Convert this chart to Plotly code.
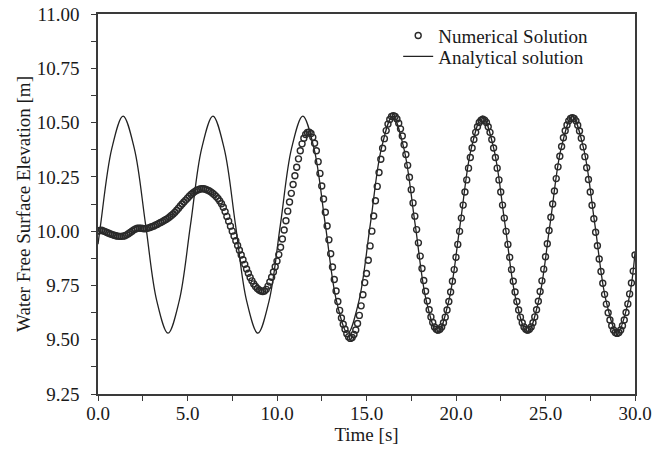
import plotly.graph_objects as go

# ---------------- data ----------------
DT = 0.1  # sampling interval of the numerical solution [s]
numerical_values = [
    10.000, 10.003, 10.004, 10.001, 9.998, 9.994, 9.990, 9.987, 9.984, 9.981,
    9.979, 9.977, 9.976, 9.976, 9.977, 9.979, 9.983, 9.988, 9.994, 10.000,
    10.006, 10.010, 10.013, 10.014, 10.013, 10.012, 10.011, 10.012, 10.014, 10.017,
    10.020, 10.023, 10.027, 10.031, 10.036, 10.040, 10.044, 10.049, 10.054, 10.059,
    10.065, 10.072, 10.079, 10.087, 10.096, 10.106, 10.116, 10.125, 10.134, 10.143,
    10.152, 10.161, 10.169, 10.176, 10.182, 10.187, 10.191, 10.194, 10.195, 10.195,
    10.193, 10.190, 10.186, 10.181, 10.175, 10.168, 10.160, 10.150, 10.139, 10.126,
    10.110, 10.090, 10.068, 10.046, 10.023, 10.000, 9.978, 9.956, 9.934, 9.912,
    9.890, 9.868, 9.847, 9.826, 9.806, 9.787, 9.771, 9.757, 9.745, 9.736,
    9.729, 9.724, 9.722, 9.724, 9.732, 9.747, 9.766, 9.788, 9.812, 9.836,
    9.862, 9.892, 9.926, 9.964, 10.005, 10.048, 10.092, 10.134, 10.174, 10.215,
    10.255, 10.294, 10.333, 10.370, 10.402, 10.428, 10.445, 10.454, 10.456, 10.450,
    10.432, 10.405, 10.370, 10.320, 10.266, 10.208, 10.148, 10.087, 10.024, 9.960,
    9.896, 9.835, 9.777, 9.724, 9.676, 9.635, 9.600, 9.571, 9.548, 9.528,
    9.513, 9.506, 9.510, 9.524, 9.545, 9.575, 9.612, 9.656, 9.707, 9.763,
    9.805, 9.866, 9.932, 10.000, 10.070, 10.140, 10.206, 10.270, 10.331, 10.382,
    10.426, 10.463, 10.493, 10.514, 10.528, 10.532, 10.528, 10.517, 10.497, 10.471,
    10.438, 10.398, 10.353, 10.303, 10.248, 10.191, 10.130, 10.069, 10.007, 9.946,
    9.885, 9.828, 9.773, 9.723, 9.678, 9.638, 9.605, 9.579, 9.559, 9.548,
    9.544, 9.548, 9.559, 9.578, 9.604, 9.637, 9.676, 9.720, 9.769, 9.823,
    9.880, 9.939, 9.999, 10.060, 10.120, 10.180, 10.236, 10.290, 10.339, 10.383,
    10.422, 10.455, 10.481, 10.500, 10.511, 10.515, 10.511, 10.500, 10.481, 10.455,
    10.422, 10.383, 10.339, 10.290, 10.236, 10.180, 10.120, 10.060, 9.999, 9.939,
    9.880, 9.823, 9.769, 9.720, 9.676, 9.637, 9.604, 9.578, 9.559, 9.548,
    9.544, 9.548, 9.559, 9.578, 9.605, 9.638, 9.677, 9.722, 9.771, 9.825,
    9.882, 9.942, 10.003, 10.064, 10.125, 10.185, 10.242, 10.296, 10.345, 10.390,
    10.430, 10.462, 10.489, 10.508, 10.519, 10.523, 10.519, 10.508, 10.488, 10.461,
    10.428, 10.388, 10.343, 10.292, 10.238, 10.180, 10.119, 10.057, 9.995, 9.933,
    9.872, 9.814, 9.760, 9.709, 9.664, 9.624, 9.591, 9.564, 9.545, 9.533,
    9.529, 9.533, 9.545, 9.564, 9.591, 9.625, 9.665, 9.711, 9.761, 9.816,
    9.890,
]
numerical_time = [round(i * DT, 1) for i in range(len(numerical_values))]

analytical_time = [
    0.0, 0.145, 0.77, 1.40, 2.03, 2.66, 3.28, 3.91, 4.54, 5.17, 5.79, 6.42,
    7.05, 7.68, 8.30, 8.93, 9.56, 10.19, 10.81, 11.44, 12.07, 12.70, 13.32,
    13.95, 14.58, 15.21, 15.83, 16.46, 17.09, 17.72, 18.34, 18.97, 19.60,
    20.23, 20.85, 21.48, 22.11, 22.74, 23.36, 23.99, 24.62, 25.25, 25.87,
    26.50, 27.13, 27.76, 28.38, 29.01, 29.64, 30.0,
]
analytical_values = [
    9.94, 10.03, 10.38, 10.53, 10.38, 10.03, 9.68, 9.53, 9.68, 10.03, 10.38, 10.53,
    10.38, 10.03, 9.68, 9.53, 9.68, 10.03, 10.38, 10.53, 10.38, 10.03, 9.68,
    9.53, 9.68, 10.03, 10.38, 10.53, 10.38, 10.03, 9.68, 9.53, 9.68,
    10.03, 10.38, 10.53, 10.38, 10.03, 9.68, 9.53, 9.68, 10.03, 10.38,
    10.53, 10.38, 10.03, 9.68, 9.53, 9.68, 9.90,
]

x_tick_values = [0, 5, 10, 15, 20, 25, 30]
y_tick_values = [9.25, 9.50, 9.75, 10.00, 10.25, 10.50, 10.75, 11.00]

FONT = "Liberation Serif, Times New Roman, serif"
INK = "#1a1a1a"
FS = 19

# ---------------- figure ----------------
fig = go.Figure()

fig.add_trace(go.Scatter(
    x=analytical_time, y=analytical_values,
    mode="lines", name="Analytical solution", legend="legend2",
    line=dict(color="#222222", width=1.3, shape="spline", smoothing=1.0),
))

fig.add_trace(go.Scatter(
    x=numerical_time, y=numerical_values,
    mode="markers", name="Numerical Solution", legend="legend",
    marker=dict(symbol="circle-open", size=6, color="#2a2a2a",
                line=dict(width=1.4, color="#2a2a2a")),
))

axis_common = dict(
    showline=True, linecolor="#3a3a3a", linewidth=1.5, mirror=True,
    ticks="outside", ticklen=5, tickwidth=1.2, tickcolor="#3a3a3a",
    showgrid=False, zeroline=False, automargin=False,
    tickfont=dict(family=FONT, size=FS, color=INK),
)

legend_common = dict(
    xanchor="left", yanchor="middle",
    bgcolor="rgba(0,0,0,0)", borderwidth=0,
    font=dict(family=FONT, size=FS, color=INK),
    itemwidth=30,
)

fig.update_layout(
    width=670, height=449,
    margin=dict(l=98, r=35, t=14, b=55),
    paper_bgcolor="white", plot_bgcolor="white",
    font=dict(family=FONT, size=FS, color=INK),
    showlegend=True,
    legend=dict(x=0.559, y=0.943, **legend_common),
    legend2=dict(x=0.559, y=0.888, **legend_common),
    xaxis=dict(
        range=[0, 30], tickvals=x_tick_values, tickformat=".1f",
        ticklabelstandoff=-4,
        minor=dict(dtick=2.5, ticks="outside", ticklen=5, tickwidth=1.2,
                   tickcolor="#3a3a3a", showgrid=False),
        title=dict(text="Time [s]", standoff=3,
                   font=dict(family=FONT, size=FS, color=INK)),
        **axis_common,
    ),
    yaxis=dict(
        range=[9.25, 11.0], tickvals=y_tick_values, tickformat=".2f",
        ticklabelstandoff=8,
        minor=dict(dtick=0.125, tick0=9.25, ticks="outside", ticklen=5,
                   tickwidth=1.2, tickcolor="#3a3a3a", showgrid=False),
        title=dict(text="Water Free Surface Elevation [m]", standoff=1,
                   font=dict(family=FONT, size=FS, color=INK)),
        **axis_common,
    ),
)

fig.write_html(
    "out.html",
    config={"displayModeBar": False},
    post_script="document.body.style.margin='0';document.body.style.padding='0';",
)
